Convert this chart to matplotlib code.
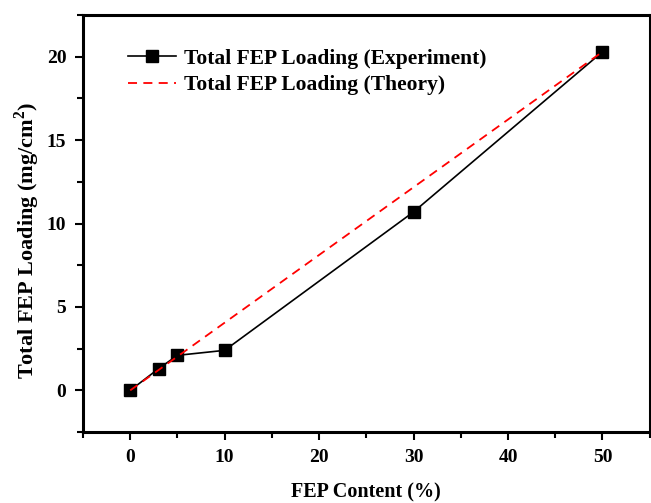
import matplotlib.pyplot as plt
from matplotlib.ticker import MultipleLocator

# FEP content (%) and loading values
fep_content = [0, 3, 5, 10, 30, 50]
loading_exp = [0.0, 1.3, 2.1, 2.4, 10.7, 20.3]
loading_theory = [0.0, 1.22, 2.03, 4.06, 12.18, 20.3]

plt.rcParams["font.family"] = ["Liberation Serif", "DejaVu Serif"]
plt.rcParams["font.weight"] = "bold"
plt.rcParams["mathtext.fontset"] = "custom"
plt.rcParams["mathtext.rm"] = "Liberation Serif:bold"

fig = plt.figure(figsize=(6.51, 5.03), dpi=100)
ax = fig.add_axes([0.1275, 0.141, 0.8705, 0.829])

ax.plot(fep_content, loading_exp, color="black", linewidth=1.2, marker="s",
        markersize=8, label="Total FEP Loading (Experiment)")
ax.plot(fep_content, loading_theory, color="red", linestyle="--", linewidth=1.3,
        dashes=(5, 3.5), label="Total FEP Loading (Theory)")

ax.set_xlim(-5, 55)
ax.set_ylim(-2.5, 22.5)
ax.xaxis.set_major_locator(MultipleLocator(10))
ax.xaxis.set_minor_locator(MultipleLocator(5))
ax.yaxis.set_major_locator(MultipleLocator(5))
ax.yaxis.set_minor_locator(MultipleLocator(2.5))
ax.tick_params(which="major", direction="out", length=6, width=1.5, labelsize=14, pad=6)
ax.tick_params(which="minor", direction="out", length=4, width=1.5)
for sp in ax.spines.values():
    sp.set_linewidth(2.2)

ax.set_xlabel("FEP Content (%)", fontsize=14.5, fontweight="bold", labelpad=12)
ax.set_ylabel("Total FEP Loading (mg/cm$^2$)", fontsize=16, fontweight="bold")
ax.yaxis.set_label_coords(-0.072, 0.46)

leg = ax.legend(loc="upper left", frameon=False, fontsize=15.5, handlelength=2.2,
                bbox_to_anchor=(0.046, 0.966), labelspacing=0.3, handletextpad=0.4)

fig.savefig("out.png", dpi=100)
